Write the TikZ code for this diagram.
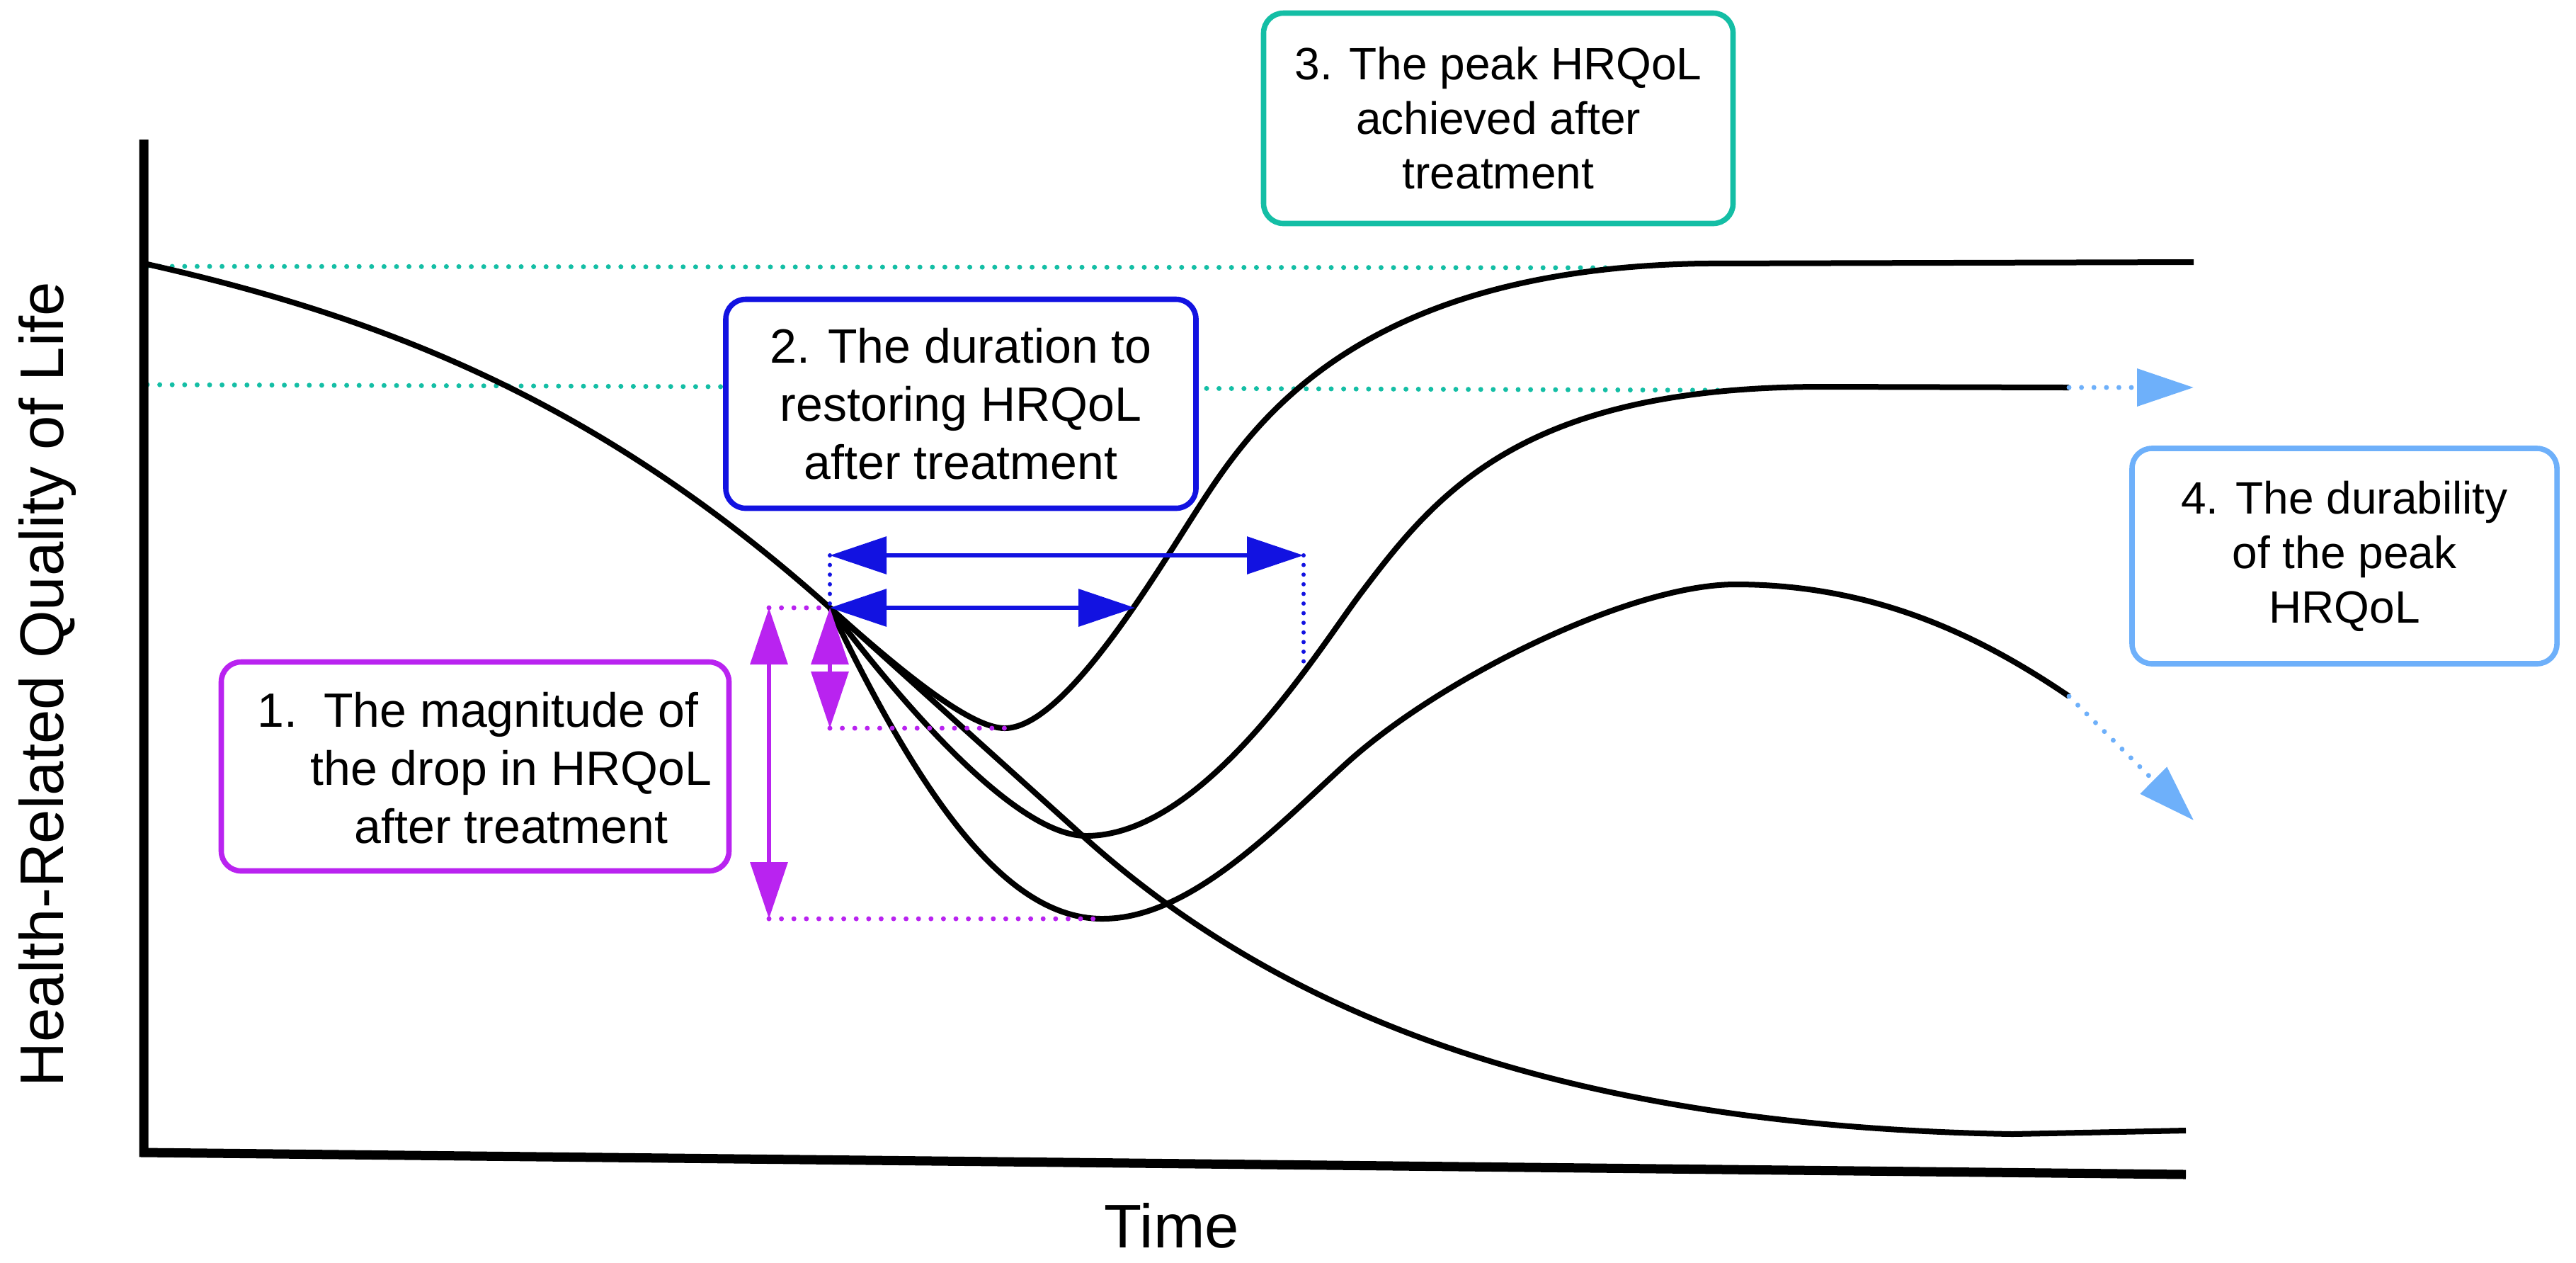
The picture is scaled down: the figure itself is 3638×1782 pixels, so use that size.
\documentclass[tikz,border=0pt]{standalone}
\usepackage{fontspec}
\setmainfont{Liberation Sans}
\usetikzlibrary{arrows.meta}
\definecolor{tealc}{RGB}{20,190,165}
\definecolor{purpc}{RGB}{185,35,240}
\definecolor{bluec}{RGB}{18,18,225}
\definecolor{lbluec}{RGB}{110,176,250}
\begin{document}
\begin{tikzpicture}[x=0.25pt,y=-0.25pt,
  curve/.style={line width=2pt, black, line join=round, line cap=butt},
  axisline/.style={line width=3.25pt, black, line join=miter},
  dotline/.style={line width=1.75pt, line cap=round, dash pattern=on 0pt off 4.4pt},
  infobox/.style={draw, line width=1.9pt, rounded corners=7pt, fill=white, align=center, inner sep=0pt},
  bigtext/.style={font=\fontsize{17}{20.5}\selectfont},
  smalltext/.style={font=\fontsize{16}{19.25}\selectfont},
  axtext/.style={font=\fontsize{21.75}{26}\selectfont},
  dblarrow/.style={line width=1.6pt, {Triangle[length=20pt,width=13pt]}-{Triangle[length=20pt,width=13pt]}},
  endarrow/.style={-{Triangle[length=20pt,width=13pt]}}
]
\useasboundingbox (0,0) rectangle (3638,1782);

% key coordinates
\coordinate (S) at (208,373);
\coordinate (J) at (1172,858);
\coordinate (O) at (203,1627);
\coordinate (Ytop) at (203,197);
\coordinate (Xend) at (3087,1658);
\coordinate (T1a) at (208,376);
\coordinate (T1b) at (2295,378);
\coordinate (T2a) at (208,543);
\coordinate (T2b) at (2448,551);
\coordinate (Amin) at (1419,1028);
\coordinate (Bmin) at (1534,1180);
\coordinate (Cmin) at (1557,1297);
\coordinate (Across) at (1603,858);
\coordinate (Bcross) at (1841,943);
\coordinate (BL) at (1172,784);
\coordinate (BR) at (1841,784);
\coordinate (PL) at (1086,858);
\coordinate (PLb) at (1086,1297);
\coordinate (PS) at (1172,1028);
\coordinate (Bend) at (2922,547);
\coordinate (Bext) at (3098,547);
\coordinate (Cend) at (2922,983);
\coordinate (Cext) at (3098,1158);

% teal reference lines
\draw[dotline, tealc] (T1a) -- (T1b);
\draw[dotline, tealc] (T2a) -- (T2b);

% axes
\draw[axisline] (Ytop) -- (O) -- (Xend);

% main decline
\draw[curve] (S) .. controls (550,450) and (850,570) .. (J)
  -- (1517,1169) .. controls (1800,1430) and (2200,1590) .. (2842,1601) -- (3087,1596);

% curve A (highest peak)
\draw[curve] (J) .. controls (1290,964) and (1375,1028) .. (Amin)
  .. controls (1500,1028) and (1620,830) .. (1684,730)
  .. controls (1760,612) and (1900,380) .. (2405,372) -- (3098,370);

% curve B
\draw[curve] (J) .. controls (1230,935) and (1420,1180) .. (Bmin)
  .. controls (1700,1180) and (1860,920) .. (1920,840)
  .. controls (2030,694) and (2150,546) .. (2574,546) -- (Bend);

% curve C
\draw[curve] (J) .. controls (1300,1125) and (1420,1297) .. (Cmin)
  .. controls (1680,1297) and (1800,1170) .. (1900,1079)
  .. controls (2030,960) and (2300,825) .. (2451,825)
  .. controls (2650,825) and (2800,900) .. (Cend);

% light blue durability arrows
\draw[dotline, lbluec, endarrow] (Bend) -- (Bext);
\draw[dotline, lbluec, endarrow] (Cend) -- (Cext);

% blue duration arrows
\draw[dotline, bluec, line width=1.5pt, dash pattern=on 0pt off 3.4pt] (BL) -- (J);
\draw[dotline, bluec, line width=1.5pt, dash pattern=on 0pt off 3.4pt] (BR) -- (Bcross);
\draw[dblarrow, bluec] (BL) -- (BR);
\draw[dblarrow, bluec] (J) -- (Across);

% purple magnitude arrows
\draw[dotline, purpc] (PL) -- (J);
\draw[dotline, purpc] (PS) -- (Amin);
\draw[dotline, purpc] (PLb) -- (Cmin);
\draw[dblarrow, purpc] (PL) -- (PLb);
\draw[dblarrow, purpc] (J) -- (PS);

% boxes
\node[infobox, draw=purpc, minimum width=179.25pt, minimum height=73.75pt] (box1) at (671,1082) {};
\node[bigtext, align=center, inner sep=0pt] (box1txt) at (722,1084)
  {\llap{1.\hspace{0.55em}}The magnitude of\\the drop in HRQoL\\after treatment};
\node[infobox, draw=bluec, bigtext, minimum width=166pt, minimum height=73.75pt] (box2) at (1357,570)
  {2. The duration to\\restoring HRQoL\\after treatment};
\node[infobox, draw=tealc, smalltext, minimum width=165.75pt, minimum height=74.25pt] (box3) at (2116,167)
  {3. The peak HRQoL\\achieved after\\treatment};
\node[infobox, draw=lbluec, smalltext, minimum width=150pt, minimum height=76pt] (box4) at (3311,785)
  {4. The durability\\of the peak\\HRQoL};

% axis labels
\node[axtext, rotate=90, anchor=base] (ylab) at (89,966) {Health-Related Quality of Life};
\node[axtext, anchor=base] (xlab) at (1655,1761) {Time};
\end{tikzpicture}
\end{document}
